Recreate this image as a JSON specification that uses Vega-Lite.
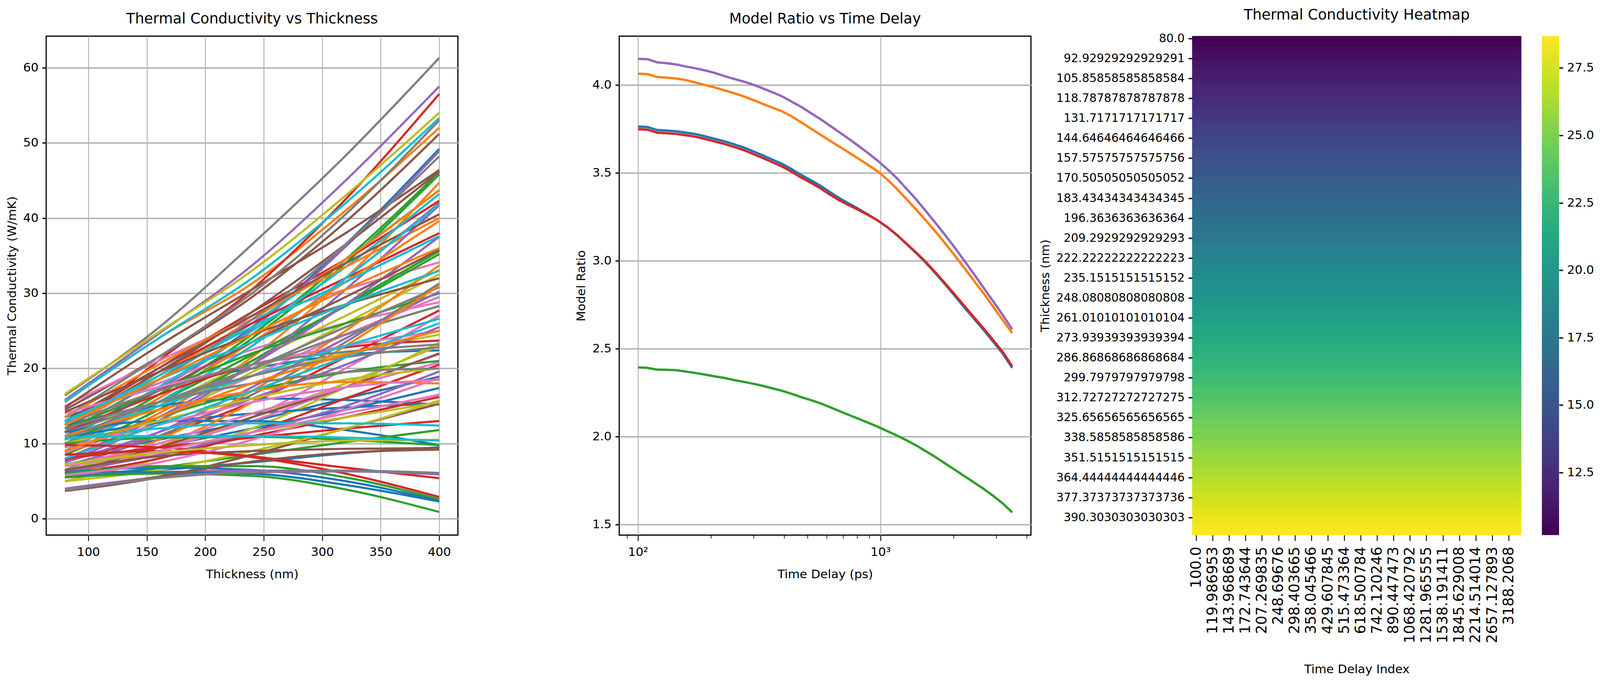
{
  "$schema": "https://vega.github.io/schema/vega-lite/v6.json",
  "background": "white",
  "autosize": {"type": "none"},
  "padding": {"left": 118.2, "top": 92.5, "right": 3977.8, "bottom": 1673.5},
  "config": {
    "font": "DejaVu Sans",
    "view": {"stroke": "black", "strokeWidth": 3},
    "axis": {
      "labelFont": "DejaVu Sans", "labelFontSize": 31, "labelColor": "black", "labelLimit": 0,
      "titleFont": "DejaVu Sans", "titleFontSize": 31, "titleFontWeight": "normal", "titleColor": "black",
      "tickColor": "black", "domain": false, "gridColor": "#b0b0b0", "gridOpacity": 1,
      "labelFlush": false, "labelOverlap": false, "labelBound": false
    },
    "axisX": {"tickSize": 14.6, "tickWidth": 2.3, "labelPadding": 14.6, "titlePadding": 27, "gridWidth": 2.3},
    "axisY": {"tickSize": 10, "tickWidth": 3.3, "labelPadding": 10, "titlePadding": 11.5, "gridWidth": 3.3},
    "title": {"font": "DejaVu Sans", "fontSize": 37, "fontWeight": "normal", "color": "black", "anchor": "middle", "frame": "group", "offset": 25, "baseline": "alphabetic"}
  },
  "datasets": {
    "kappa": [
      {"g":0,"t":80,"k":11.0},{"g":0,"t":160,"k":17.5},{"g":0,"t":240,"k":25.5},{"g":0,"t":320,"k":36.5},{"g":0,"t":400,"k":49.2},
      {"g":1,"t":80,"k":15.5},{"g":1,"t":160,"k":24.0},{"g":1,"t":240,"k":31.3},{"g":1,"t":320,"k":41.0},{"g":1,"t":400,"k":52.0},
      {"g":2,"t":80,"k":10.0},{"g":2,"t":160,"k":16.5},{"g":2,"t":240,"k":24.5},{"g":2,"t":320,"k":34.5},{"g":2,"t":400,"k":46.1},
      {"g":3,"t":80,"k":11.5},{"g":3,"t":160,"k":21.0},{"g":3,"t":240,"k":30.5},{"g":3,"t":320,"k":42.5},{"g":3,"t":400,"k":56.5},
      {"g":4,"t":80,"k":15.8},{"g":4,"t":160,"k":24.6},{"g":4,"t":240,"k":33.7},{"g":4,"t":320,"k":45.0},{"g":4,"t":400,"k":57.5},
      {"g":5,"t":80,"k":14.5},{"g":5,"t":160,"k":21.5},{"g":5,"t":240,"k":29.5},{"g":5,"t":320,"k":39.5},{"g":5,"t":400,"k":51.2},
      {"g":6,"t":80,"k":15.0},{"g":6,"t":160,"k":21.0},{"g":6,"t":240,"k":26.5},{"g":6,"t":320,"k":30.5},{"g":6,"t":400,"k":34.1},
      {"g":7,"t":80,"k":16.4},{"g":7,"t":160,"k":25.4},{"g":7,"t":240,"k":36.5},{"g":7,"t":320,"k":48.3},{"g":7,"t":400,"k":61.3},
      {"g":8,"t":80,"k":16.6},{"g":8,"t":160,"k":24.8},{"g":8,"t":240,"k":33.0},{"g":8,"t":320,"k":43.0},{"g":8,"t":400,"k":54.0},
      {"g":9,"t":80,"k":15.6},{"g":9,"t":160,"k":24.0},{"g":9,"t":240,"k":32.0},{"g":9,"t":320,"k":42.0},{"g":9,"t":400,"k":53.3},
      {"g":10,"t":80,"k":13.5},{"g":10,"t":160,"k":17.5},{"g":10,"t":240,"k":20.0},{"g":10,"t":320,"k":21.8},{"g":10,"t":400,"k":22.4},
      {"g":11,"t":80,"k":8.5},{"g":11,"t":160,"k":14.0},{"g":11,"t":240,"k":21.5},{"g":11,"t":320,"k":32.0},{"g":11,"t":400,"k":44.7},
      {"g":12,"t":80,"k":9.5},{"g":12,"t":160,"k":16.0},{"g":12,"t":240,"k":24.0},{"g":12,"t":320,"k":34.0},{"g":12,"t":400,"k":45.8},
      {"g":13,"t":80,"k":12.5},{"g":13,"t":160,"k":20.0},{"g":13,"t":240,"k":27.5},{"g":13,"t":320,"k":34.5},{"g":13,"t":400,"k":42.3},
      {"g":14,"t":80,"k":10.8},{"g":14,"t":160,"k":17.2},{"g":14,"t":240,"k":25.3},{"g":14,"t":320,"k":36.2},{"g":14,"t":400,"k":48.9},
      {"g":15,"t":80,"k":14.8},{"g":15,"t":160,"k":23.0},{"g":15,"t":240,"k":30.5},{"g":15,"t":320,"k":38.0},{"g":15,"t":400,"k":46.4},
      {"g":16,"t":80,"k":13.0},{"g":16,"t":160,"k":18.0},{"g":16,"t":240,"k":22.5},{"g":16,"t":320,"k":26.0},{"g":16,"t":400,"k":28.8},
      {"g":17,"t":80,"k":13.5},{"g":17,"t":160,"k":21.5},{"g":17,"t":240,"k":30.0},{"g":17,"t":320,"k":40.5},{"g":17,"t":400,"k":53.0},
      {"g":18,"t":80,"k":9.5},{"g":18,"t":160,"k":15.0},{"g":18,"t":240,"k":21.0},{"g":18,"t":320,"k":27.0},{"g":18,"t":400,"k":33.1},
      {"g":19,"t":80,"k":11.5},{"g":19,"t":160,"k":18.5},{"g":19,"t":240,"k":26.0},{"g":19,"t":320,"k":34.5},{"g":19,"t":400,"k":43.7},
      {"g":20,"t":80,"k":8.0},{"g":20,"t":160,"k":10.5},{"g":20,"t":240,"k":13.0},{"g":20,"t":320,"k":16.0},{"g":20,"t":400,"k":18.9},
      {"g":21,"t":80,"k":12.0},{"g":21,"t":160,"k":19.0},{"g":21,"t":240,"k":26.5},{"g":21,"t":320,"k":34.5},{"g":21,"t":400,"k":43.7},
      {"g":22,"t":80,"k":8.5},{"g":22,"t":160,"k":14.5},{"g":22,"t":240,"k":21.0},{"g":22,"t":320,"k":28.5},{"g":22,"t":400,"k":35.6},
      {"g":23,"t":80,"k":12.0},{"g":23,"t":160,"k":19.5},{"g":23,"t":240,"k":26.0},{"g":23,"t":320,"k":32.0},{"g":23,"t":400,"k":38.0},
      {"g":24,"t":80,"k":9.0},{"g":24,"t":160,"k":15.5},{"g":24,"t":240,"k":23.0},{"g":24,"t":320,"k":32.0},{"g":24,"t":400,"k":42.0},
      {"g":25,"t":80,"k":12.5},{"g":25,"t":160,"k":19.5},{"g":25,"t":240,"k":27.5},{"g":25,"t":320,"k":36.5},{"g":25,"t":400,"k":46.2},
      {"g":26,"t":80,"k":8.8},{"g":26,"t":160,"k":13.5},{"g":26,"t":240,"k":19.0},{"g":26,"t":320,"k":24.5},{"g":26,"t":400,"k":29.5},
      {"g":27,"t":80,"k":11.5},{"g":27,"t":160,"k":18.5},{"g":27,"t":240,"k":26.5},{"g":27,"t":320,"k":36.5},{"g":27,"t":400,"k":48.2},
      {"g":28,"t":80,"k":8.0},{"g":28,"t":160,"k":13.0},{"g":28,"t":240,"k":19.5},{"g":28,"t":320,"k":26.0},{"g":28,"t":400,"k":32.5},
      {"g":29,"t":80,"k":10.5},{"g":29,"t":160,"k":17.5},{"g":29,"t":240,"k":25.0},{"g":29,"t":320,"k":33.5},{"g":29,"t":400,"k":43.2},
      {"g":30,"t":80,"k":7.2},{"g":30,"t":160,"k":9.5},{"g":30,"t":240,"k":12.0},{"g":30,"t":320,"k":14.5},{"g":30,"t":400,"k":17.4},
      {"g":31,"t":80,"k":13.5},{"g":31,"t":160,"k":20.5},{"g":31,"t":240,"k":27.0},{"g":31,"t":320,"k":33.5},{"g":31,"t":400,"k":40.0},
      {"g":32,"t":80,"k":10.0},{"g":32,"t":160,"k":15.5},{"g":32,"t":240,"k":21.8},{"g":32,"t":320,"k":28.3},{"g":32,"t":400,"k":35.2},
      {"g":33,"t":80,"k":7.8},{"g":33,"t":160,"k":11.0},{"g":33,"t":240,"k":15.5},{"g":33,"t":320,"k":21.5},{"g":33,"t":400,"k":27.7},
      {"g":34,"t":80,"k":7.5},{"g":34,"t":160,"k":13.0},{"g":34,"t":240,"k":20.5},{"g":34,"t":320,"k":30.5},{"g":34,"t":400,"k":41.7},
      {"g":35,"t":80,"k":13.0},{"g":35,"t":160,"k":20.0},{"g":35,"t":240,"k":27.0},{"g":35,"t":320,"k":34.0},{"g":35,"t":400,"k":40.5},
      {"g":36,"t":80,"k":6.0},{"g":36,"t":160,"k":9.0},{"g":36,"t":240,"k":13.5},{"g":36,"t":320,"k":20.0},{"g":36,"t":400,"k":27.0},
      {"g":37,"t":80,"k":7.0},{"g":37,"t":160,"k":11.0},{"g":37,"t":240,"k":16.5},{"g":37,"t":320,"k":23.5},{"g":37,"t":400,"k":31.3},
      {"g":38,"t":80,"k":12.0},{"g":38,"t":160,"k":15.5},{"g":38,"t":240,"k":19.0},{"g":38,"t":320,"k":22.0},{"g":38,"t":400,"k":24.5},
      {"g":39,"t":80,"k":9.0},{"g":39,"t":160,"k":15.5},{"g":39,"t":240,"k":23.0},{"g":39,"t":320,"k":32.0},{"g":39,"t":400,"k":41.8},
      {"g":40,"t":80,"k":12.5},{"g":40,"t":160,"k":15.0},{"g":40,"t":240,"k":16.0},{"g":40,"t":320,"k":15.8},{"g":40,"t":400,"k":15.2},
      {"g":41,"t":80,"k":9.5},{"g":41,"t":160,"k":16.0},{"g":41,"t":240,"k":23.5},{"g":41,"t":320,"k":31.5},{"g":41,"t":400,"k":39.6},
      {"g":42,"t":80,"k":12.0},{"g":42,"t":160,"k":17.0},{"g":42,"t":240,"k":22.0},{"g":42,"t":320,"k":26.0},{"g":42,"t":400,"k":30.0},
      {"g":43,"t":80,"k":11.5},{"g":43,"t":160,"k":16.5},{"g":43,"t":240,"k":20.5},{"g":43,"t":320,"k":22.8},{"g":43,"t":400,"k":23.7},
      {"g":44,"t":80,"k":8.0},{"g":44,"t":160,"k":13.5},{"g":44,"t":240,"k":20.5},{"g":44,"t":320,"k":28.5},{"g":44,"t":400,"k":37.5},
      {"g":45,"t":80,"k":11.0},{"g":45,"t":160,"k":17.0},{"g":45,"t":240,"k":23.5},{"g":45,"t":320,"k":29.5},{"g":45,"t":400,"k":35.8},
      {"g":46,"t":80,"k":14.0},{"g":46,"t":160,"k":17.5},{"g":46,"t":240,"k":20.5},{"g":46,"t":320,"k":23.0},{"g":46,"t":400,"k":25.0},
      {"g":47,"t":80,"k":10.0},{"g":47,"t":160,"k":15.0},{"g":47,"t":240,"k":20.0},{"g":47,"t":320,"k":25.5},{"g":47,"t":400,"k":30.8},
      {"g":48,"t":80,"k":5.0},{"g":48,"t":160,"k":8.0},{"g":48,"t":240,"k":12.0},{"g":48,"t":320,"k":17.5},{"g":48,"t":400,"k":23.4},
      {"g":49,"t":80,"k":12.8},{"g":49,"t":160,"k":19.0},{"g":49,"t":240,"k":25.5},{"g":49,"t":320,"k":31.5},{"g":49,"t":400,"k":37.6},
      {"g":50,"t":80,"k":10.8},{"g":50,"t":160,"k":12.8},{"g":50,"t":240,"k":14.0},{"g":50,"t":320,"k":14.8},{"g":50,"t":400,"k":15.3},
      {"g":51,"t":80,"k":6.0},{"g":51,"t":160,"k":10.5},{"g":51,"t":240,"k":17.0},{"g":51,"t":320,"k":25.0},{"g":51,"t":400,"k":33.7},
      {"g":52,"t":80,"k":9.0},{"g":52,"t":160,"k":13.5},{"g":52,"t":240,"k":17.0},{"g":52,"t":320,"k":19.5},{"g":52,"t":400,"k":21.0},
      {"g":53,"t":80,"k":6.0},{"g":53,"t":160,"k":8.0},{"g":53,"t":240,"k":11.5},{"g":53,"t":320,"k":16.0},{"g":53,"t":400,"k":20.5},
      {"g":54,"t":80,"k":6.5},{"g":54,"t":160,"k":11.5},{"g":54,"t":240,"k":17.5},{"g":54,"t":320,"k":24.0},{"g":54,"t":400,"k":30.2},
      {"g":55,"t":80,"k":14.2},{"g":55,"t":160,"k":19.5},{"g":55,"t":240,"k":24.5},{"g":55,"t":320,"k":28.5},{"g":55,"t":400,"k":32.0},
      {"g":56,"t":80,"k":6.5},{"g":56,"t":160,"k":9.5},{"g":56,"t":240,"k":13.0},{"g":56,"t":320,"k":17.5},{"g":56,"t":400,"k":21.9},
      {"g":57,"t":80,"k":11.5},{"g":57,"t":160,"k":15.5},{"g":57,"t":240,"k":20.0},{"g":57,"t":320,"k":24.5},{"g":57,"t":400,"k":28.3},
      {"g":58,"t":80,"k":6.5},{"g":58,"t":160,"k":9.5},{"g":58,"t":240,"k":13.5},{"g":58,"t":320,"k":18.0},{"g":58,"t":400,"k":23.0},
      {"g":59,"t":80,"k":13.0},{"g":59,"t":160,"k":18.5},{"g":59,"t":240,"k":23.5},{"g":59,"t":320,"k":28.5},{"g":59,"t":400,"k":33.0},
      {"g":60,"t":80,"k":11.5},{"g":60,"t":160,"k":13.0},{"g":60,"t":240,"k":13.0},{"g":60,"t":320,"k":11.8},{"g":60,"t":400,"k":9.8},
      {"g":61,"t":80,"k":5.5},{"g":61,"t":160,"k":9.5},{"g":61,"t":240,"k":15.5},{"g":61,"t":320,"k":23.0},{"g":61,"t":400,"k":31.0},
      {"g":62,"t":80,"k":5.5},{"g":62,"t":160,"k":6.8},{"g":62,"t":240,"k":8.5},{"g":62,"t":320,"k":10.2},{"g":62,"t":400,"k":11.8},
      {"g":63,"t":80,"k":6.3},{"g":63,"t":160,"k":8.5},{"g":63,"t":240,"k":11.0},{"g":63,"t":320,"k":13.5},{"g":63,"t":400,"k":16.2},
      {"g":64,"t":80,"k":7.5},{"g":64,"t":160,"k":11.5},{"g":64,"t":240,"k":16.0},{"g":64,"t":320,"k":20.5},{"g":64,"t":400,"k":25.5},
      {"g":65,"t":80,"k":6.0},{"g":65,"t":160,"k":9.5},{"g":65,"t":240,"k":13.5},{"g":65,"t":320,"k":17.5},{"g":65,"t":400,"k":22.0},
      {"g":66,"t":80,"k":7.0},{"g":66,"t":160,"k":10.0},{"g":66,"t":240,"k":14.0},{"g":66,"t":320,"k":17.5},{"g":66,"t":400,"k":20.8},
      {"g":67,"t":80,"k":12.5},{"g":67,"t":160,"k":17.0},{"g":67,"t":240,"k":20.5},{"g":67,"t":320,"k":22.2},{"g":67,"t":400,"k":23.2},
      {"g":68,"t":80,"k":10.0},{"g":68,"t":160,"k":13.0},{"g":68,"t":240,"k":16.0},{"g":68,"t":320,"k":18.5},{"g":68,"t":400,"k":20.0},
      {"g":69,"t":80,"k":11.0},{"g":69,"t":160,"k":15.0},{"g":69,"t":240,"k":19.0},{"g":69,"t":320,"k":23.0},{"g":69,"t":400,"k":26.6},
      {"g":70,"t":80,"k":6.0},{"g":70,"t":160,"k":6.5},{"g":70,"t":240,"k":7.5},{"g":70,"t":320,"k":8.7},{"g":70,"t":400,"k":9.5},
      {"g":71,"t":80,"k":11.0},{"g":71,"t":160,"k":14.5},{"g":71,"t":240,"k":17.0},{"g":71,"t":320,"k":18.2},{"g":71,"t":400,"k":18.0},
      {"g":72,"t":80,"k":10.0},{"g":72,"t":160,"k":10.8},{"g":72,"t":240,"k":10.9},{"g":72,"t":320,"k":10.5},{"g":72,"t":400,"k":9.8},
      {"g":73,"t":80,"k":8.0},{"g":73,"t":160,"k":9.5},{"g":73,"t":240,"k":10.8},{"g":73,"t":320,"k":12.0},{"g":73,"t":400,"k":13.0},
      {"g":74,"t":80,"k":6.2},{"g":74,"t":160,"k":8.5},{"g":74,"t":240,"k":11.5},{"g":74,"t":320,"k":15.0},{"g":74,"t":400,"k":19.6},
      {"g":75,"t":80,"k":3.7},{"g":75,"t":160,"k":5.5},{"g":75,"t":240,"k":8.5},{"g":75,"t":320,"k":12.0},{"g":75,"t":400,"k":15.3},
      {"g":76,"t":80,"k":9.5},{"g":76,"t":160,"k":12.5},{"g":76,"t":240,"k":15.5},{"g":76,"t":320,"k":17.5},{"g":76,"t":400,"k":18.5},
      {"g":77,"t":80,"k":10.5},{"g":77,"t":160,"k":15.5},{"g":77,"t":240,"k":19.0},{"g":77,"t":320,"k":21.5},{"g":77,"t":400,"k":22.8},
      {"g":78,"t":80,"k":5.0},{"g":78,"t":160,"k":6.5},{"g":78,"t":240,"k":9.0},{"g":78,"t":320,"k":12.0},{"g":78,"t":400,"k":15.7},
      {"g":79,"t":80,"k":8.0},{"g":79,"t":160,"k":12.5},{"g":79,"t":240,"k":17.0},{"g":79,"t":320,"k":21.5},{"g":79,"t":400,"k":26.0},
      {"g":80,"t":80,"k":6.2},{"g":80,"t":160,"k":6.8},{"g":80,"t":240,"k":6.5},{"g":80,"t":320,"k":5.0},{"g":80,"t":400,"k":2.4},
      {"g":81,"t":80,"k":12.5},{"g":81,"t":160,"k":18.5},{"g":81,"t":240,"k":24.5},{"g":81,"t":320,"k":30.5},{"g":81,"t":400,"k":36.0},
      {"g":82,"t":80,"k":6.0},{"g":82,"t":160,"k":7.0},{"g":82,"t":240,"k":7.0},{"g":82,"t":320,"k":5.5},{"g":82,"t":400,"k":2.6},
      {"g":83,"t":80,"k":9.8},{"g":83,"t":160,"k":9.5},{"g":83,"t":240,"k":8.3},{"g":83,"t":320,"k":6.8},{"g":83,"t":400,"k":5.4},
      {"g":84,"t":80,"k":5.8},{"g":84,"t":160,"k":6.2},{"g":84,"t":240,"k":6.4},{"g":84,"t":320,"k":6.4},{"g":84,"t":400,"k":6.0},
      {"g":85,"t":80,"k":6.5},{"g":85,"t":160,"k":8.3},{"g":85,"t":240,"k":9.0},{"g":85,"t":320,"k":9.3},{"g":85,"t":400,"k":9.4},
      {"g":86,"t":80,"k":5.8},{"g":86,"t":160,"k":7.5},{"g":86,"t":240,"k":10.5},{"g":86,"t":320,"k":14.5},{"g":86,"t":400,"k":18.7},
      {"g":87,"t":80,"k":12.0},{"g":87,"t":160,"k":15.5},{"g":87,"t":240,"k":18.0},{"g":87,"t":320,"k":19.5},{"g":87,"t":400,"k":20.0},
      {"g":88,"t":80,"k":7.0},{"g":88,"t":160,"k":9.0},{"g":88,"t":240,"k":11.5},{"g":88,"t":320,"k":13.5},{"g":88,"t":400,"k":15.5},
      {"g":89,"t":80,"k":10.6},{"g":89,"t":160,"k":12.0},{"g":89,"t":240,"k":12.7},{"g":89,"t":320,"k":12.7},{"g":89,"t":400,"k":12.4},
      {"g":90,"t":80,"k":5.5},{"g":90,"t":160,"k":6.2},{"g":90,"t":240,"k":6.0},{"g":90,"t":320,"k":4.5},{"g":90,"t":400,"k":2.3},
      {"g":91,"t":80,"k":9.0},{"g":91,"t":160,"k":13.5},{"g":91,"t":240,"k":18.0},{"g":91,"t":320,"k":21.8},{"g":91,"t":400,"k":25.0},
      {"g":92,"t":80,"k":5.5},{"g":92,"t":160,"k":6.0},{"g":92,"t":240,"k":5.7},{"g":92,"t":320,"k":3.9},{"g":92,"t":400,"k":0.9},
      {"g":93,"t":80,"k":8.5},{"g":93,"t":160,"k":9.0},{"g":93,"t":240,"k":8.2},{"g":93,"t":320,"k":6.0},{"g":93,"t":400,"k":2.9},
      {"g":94,"t":80,"k":4.0},{"g":94,"t":160,"k":5.5},{"g":94,"t":240,"k":6.2},{"g":94,"t":320,"k":6.3},{"g":94,"t":400,"k":5.9},
      {"g":95,"t":80,"k":3.7},{"g":95,"t":160,"k":5.6},{"g":95,"t":240,"k":7.6},{"g":95,"t":320,"k":8.8},{"g":95,"t":400,"k":9.2},
      {"g":96,"t":80,"k":7.0},{"g":96,"t":160,"k":9.0},{"g":96,"t":240,"k":11.5},{"g":96,"t":320,"k":14.0},{"g":96,"t":400,"k":16.5},
      {"g":97,"t":80,"k":3.8},{"g":97,"t":160,"k":5.4},{"g":97,"t":240,"k":6.2},{"g":97,"t":320,"k":6.4},{"g":97,"t":400,"k":6.1},
      {"g":98,"t":80,"k":7.2},{"g":98,"t":160,"k":8.8},{"g":98,"t":240,"k":9.8},{"g":98,"t":320,"k":10.4},{"g":98,"t":400,"k":10.5},
      {"g":99,"t":80,"k":10.8},{"g":99,"t":160,"k":11.0},{"g":99,"t":240,"k":11.0},{"g":99,"t":320,"k":10.8},{"g":99,"t":400,"k":10.4}
    ],
    "ratio": [
      {"d":100,"s1":3.763,"s2":4.063,"s3":2.393,"s4":3.748,"s5":4.148},
      {"d":109.54,"s1":3.760,"s2":4.061,"s3":2.390,"s4":3.745,"s5":4.146},
      {"d":119.986953,"s1":3.743,"s2":4.045,"s3":2.380,"s4":3.728,"s5":4.128},
      {"d":131.43,"s1":3.740,"s2":4.041,"s3":2.379,"s4":3.725,"s5":4.123},
      {"d":143.968689,"s1":3.736,"s2":4.036,"s3":2.377,"s4":3.721,"s5":4.116},
      {"d":157.70,"s1":3.728,"s2":4.027,"s3":2.369,"s4":3.713,"s5":4.104},
      {"d":172.743644,"s1":3.720,"s2":4.013,"s3":2.361,"s4":3.705,"s5":4.094},
      {"d":189.22,"s1":3.707,"s2":3.999,"s3":2.352,"s4":3.692,"s5":4.082},
      {"d":207.269835,"s1":3.693,"s2":3.985,"s3":2.342,"s4":3.678,"s5":4.068},
      {"d":227.04,"s1":3.679,"s2":3.969,"s3":2.333,"s4":3.664,"s5":4.050},
      {"d":248.69676,"s1":3.662,"s2":3.953,"s3":2.321,"s4":3.647,"s5":4.034},
      {"d":272.42,"s1":3.644,"s2":3.935,"s3":2.311,"s4":3.629,"s5":4.019},
      {"d":298.403665,"s1":3.622,"s2":3.914,"s3":2.300,"s4":3.607,"s5":4.001},
      {"d":326.87,"s1":3.599,"s2":3.892,"s3":2.288,"s4":3.584,"s5":3.980},
      {"d":358.045466,"s1":3.575,"s2":3.871,"s3":2.274,"s4":3.560,"s5":3.958},
      {"d":392.20,"s1":3.551,"s2":3.850,"s3":2.260,"s4":3.536,"s5":3.935},
      {"d":429.607845,"s1":3.521,"s2":3.821,"s3":2.243,"s4":3.506,"s5":3.905},
      {"d":470.59,"s1":3.488,"s2":3.787,"s3":2.224,"s4":3.473,"s5":3.875},
      {"d":515.473364,"s1":3.458,"s2":3.752,"s3":2.207,"s4":3.444,"s5":3.840},
      {"d":564.64,"s1":3.426,"s2":3.717,"s3":2.189,"s4":3.412,"s5":3.806},
      {"d":618.500784,"s1":3.390,"s2":3.682,"s3":2.167,"s4":3.376,"s5":3.768},
      {"d":677.50,"s1":3.355,"s2":3.648,"s3":2.144,"s4":3.343,"s5":3.730},
      {"d":742.120246,"s1":3.324,"s2":3.614,"s3":2.122,"s4":3.315,"s5":3.692},
      {"d":812.91,"s1":3.294,"s2":3.579,"s3":2.100,"s4":3.288,"s5":3.652},
      {"d":890.447473,"s1":3.262,"s2":3.544,"s3":2.078,"s4":3.259,"s5":3.611},
      {"d":975.39,"s1":3.228,"s2":3.507,"s3":2.055,"s4":3.228,"s5":3.568},
      {"d":1068.420792,"s1":3.190,"s2":3.461,"s3":2.030,"s4":3.190,"s5":3.520},
      {"d":1170.34,"s1":3.145,"s2":3.407,"s3":2.005,"s4":3.146,"s5":3.468},
      {"d":1281.965555,"s1":3.094,"s2":3.349,"s3":1.978,"s4":3.096,"s5":3.408},
      {"d":1404.25,"s1":3.043,"s2":3.290,"s3":1.949,"s4":3.046,"s5":3.348},
      {"d":1538.191411,"s1":2.988,"s2":3.229,"s3":1.916,"s4":2.992,"s5":3.282},
      {"d":1684.92,"s1":2.928,"s2":3.166,"s3":1.883,"s4":2.933,"s5":3.215},
      {"d":1845.629008,"s1":2.866,"s2":3.099,"s3":1.847,"s4":2.872,"s5":3.146},
      {"d":2021.68,"s1":2.801,"s2":3.030,"s3":1.811,"s4":2.808,"s5":3.075},
      {"d":2214.514014,"s1":2.735,"s2":2.959,"s3":1.775,"s4":2.743,"s5":3.000},
      {"d":2425.75,"s1":2.671,"s2":2.887,"s3":1.739,"s4":2.679,"s5":2.925},
      {"d":2657.127893,"s1":2.607,"s2":2.815,"s3":1.703,"s4":2.616,"s5":2.847},
      {"d":2910.59,"s1":2.540,"s2":2.739,"s3":1.663,"s4":2.549,"s5":2.770},
      {"d":3188.2068,"s1":2.473,"s2":2.663,"s3":1.620,"s4":2.482,"s5":2.692},
      {"d":3492.33,"s1":2.390,"s2":2.588,"s3":1.568,"s4":2.400,"s5":2.610}
    ],
    "heat": [
      {"t":80,"k":10.18},{"t":83.232,"k":10.37},{"t":86.465,"k":10.55},{"t":89.697,"k":10.74},
      {"t":92.92929292929291,"k":10.93},{"t":96.162,"k":11.11},{"t":99.394,"k":11.30},{"t":102.626,"k":11.49},
      {"t":105.85858585858584,"k":11.67},{"t":109.091,"k":11.86},{"t":112.323,"k":12.05},{"t":115.556,"k":12.24},
      {"t":118.78787878787878,"k":12.42},{"t":122.020,"k":12.61},{"t":125.253,"k":12.80},{"t":128.485,"k":12.98},
      {"t":131.7171717171717,"k":13.17},{"t":134.949,"k":13.36},{"t":138.182,"k":13.54},{"t":141.414,"k":13.73},
      {"t":144.64646464646466,"k":13.92},{"t":147.879,"k":14.10},{"t":151.111,"k":14.29},{"t":154.343,"k":14.48},
      {"t":157.57575757575756,"k":14.66},{"t":160.808,"k":14.85},{"t":164.040,"k":15.04},{"t":167.273,"k":15.23},
      {"t":170.50505050505052,"k":15.41},{"t":173.737,"k":15.60},{"t":176.970,"k":15.79},{"t":180.202,"k":15.97},
      {"t":183.43434343434345,"k":16.16},{"t":186.667,"k":16.35},{"t":189.899,"k":16.53},{"t":193.131,"k":16.72},
      {"t":196.3636363636364,"k":16.91},{"t":199.596,"k":17.09},{"t":202.828,"k":17.28},{"t":206.061,"k":17.47},
      {"t":209.2929292929293,"k":17.65},{"t":212.525,"k":17.84},{"t":215.758,"k":18.03},{"t":218.990,"k":18.22},
      {"t":222.22222222222223,"k":18.40},{"t":225.455,"k":18.59},{"t":228.687,"k":18.78},{"t":231.919,"k":18.96},
      {"t":235.1515151515152,"k":19.15},{"t":238.384,"k":19.34},{"t":241.616,"k":19.52},{"t":244.848,"k":19.71},
      {"t":248.08080808080808,"k":19.90},{"t":251.313,"k":20.08},{"t":254.545,"k":20.27},{"t":257.778,"k":20.46},
      {"t":261.01010101010104,"k":20.64},{"t":264.242,"k":20.83},{"t":267.475,"k":21.02},{"t":270.707,"k":21.21},
      {"t":273.93939393939394,"k":21.39},{"t":277.172,"k":21.58},{"t":280.404,"k":21.77},{"t":283.636,"k":21.95},
      {"t":286.86868686868684,"k":22.14},{"t":290.101,"k":22.33},{"t":293.333,"k":22.51},{"t":296.566,"k":22.70},
      {"t":299.7979797979798,"k":22.89},{"t":303.030,"k":23.07},{"t":306.263,"k":23.26},{"t":309.495,"k":23.45},
      {"t":312.72727272727275,"k":23.63},{"t":315.960,"k":23.82},{"t":319.192,"k":24.01},{"t":322.424,"k":24.20},
      {"t":325.65656565656565,"k":24.38},{"t":328.889,"k":24.57},{"t":332.121,"k":24.76},{"t":335.354,"k":24.94},
      {"t":338.5858585858586,"k":25.13},{"t":341.818,"k":25.32},{"t":345.051,"k":25.50},{"t":348.283,"k":25.69},
      {"t":351.5151515151515,"k":25.88},{"t":354.747,"k":26.06},{"t":357.980,"k":26.25},{"t":361.212,"k":26.44},
      {"t":364.44444444444446,"k":26.62},{"t":367.677,"k":26.81},{"t":370.909,"k":27.00},{"t":374.141,"k":27.19},
      {"t":377.37373737373736,"k":27.37},{"t":380.606,"k":27.56},{"t":383.838,"k":27.75},{"t":387.071,"k":27.93},
      {"t":390.3030303030303,"k":28.12},{"t":393.535,"k":28.31},{"t":396.768,"k":28.49},{"t":400,"k":28.68}
    ]
  },
  "hconcat": [
    {
      "width": 1054,
      "height": 1277,
      "title": "Thermal Conductivity vs Thickness",
      "data": {"name": "kappa"},
      "mark": {"type": "line", "strokeWidth": 5.5, "interpolate": "monotone"},
      "encoding": {
        "x": {
          "field": "t", "type": "quantitative",
          "scale": {"domain": [64, 416], "nice": false, "zero": false},
          "axis": {"title": "Thickness (nm)", "values": [100, 150, 200, 250, 300, 350, 400], "grid": true}
        },
        "y": {
          "field": "k", "type": "quantitative",
          "scale": {"domain": [-2.17, 64.2], "nice": false, "zero": false},
          "axis": {"title": "Thermal Conductivity (W/mK)", "values": [0, 10, 20, 30, 40, 50, 60], "grid": true}
        },
        "color": {
          "field": "g", "type": "nominal",
          "scale": {"range": ["#1f77b4", "#ff7f0e", "#2ca02c", "#d62728", "#9467bd", "#8c564b", "#e377c2", "#7f7f7f", "#bcbd22", "#17becf"]},
          "legend": null
        }
      }
    },
    {
      "width": 1054,
      "height": 1277,
      "title": "Model Ratio vs Time Delay",
      "data": {"name": "ratio"},
      "layer": [
        {
          "transform": [{"fold": ["s1", "s2", "s3", "s4", "s5"], "as": ["series", "r"]}],
          "mark": {"type": "line", "strokeWidth": 6},
          "encoding": {
            "x": {
              "field": "d", "type": "quantitative",
              "scale": {"type": "log", "domain": [83.72, 4172], "nice": false},
              "axis": {"title": "Time Delay (ps)", "values": [100, 1000], "labelExpr": "datum.value == 100 ? '10²' : '10³'", "grid": true}
            },
            "y": {
              "field": "r", "type": "quantitative",
              "scale": {"domain": [1.439, 4.277], "nice": false, "zero": false},
              "axis": {"title": "Model Ratio", "values": [1.5, 2, 2.5, 3, 3.5, 4], "format": ".1f", "grid": true}
            },
            "color": {
              "field": "series", "type": "nominal",
              "scale": {"domain": ["s1", "s2", "s3", "s4", "s5"], "range": ["#1f77b4", "#ff7f0e", "#2ca02c", "#d62728", "#9467bd"]},
              "legend": null
            }
          }
        },
        {
          "mark": {"type": "point", "opacity": 0},
          "encoding": {
            "x": {
              "field": "d", "type": "quantitative",
              "axis": {"orient": "bottom", "title": null, "labels": false, "grid": false, "tickSize": 8.3, "tickWidth": 1.7,
                       "values": [90, 200, 300, 400, 500, 600, 700, 800, 900, 2000, 3000, 4000]}
            }
          }
        }
      ],
      "resolve": {"axis": {"x": "independent"}}
    },
    {
      "hconcat": [
        {
          "width": 842,
          "height": 1277,
          "title": "Thermal Conductivity Heatmap",
          "view": {"stroke": null},
          "layer": [
            {
              "data": {"name": "heat"},
              "mark": {"type": "rect", "strokeWidth": 1},
              "encoding": {
                "y": {
                  "field": "t", "type": "ordinal",
                  "scale": {"type": "band", "paddingInner": 0, "paddingOuter": 0},
                  "axis": {
                    "title": "Thickness (nm)", "titleX": -360, "grid": false, "labelFontSize": 29.5,
                    "values": [80, 92.92929292929291, 105.85858585858584, 118.78787878787878, 131.7171717171717, 144.64646464646466, 157.57575757575756, 170.50505050505052, 183.43434343434345, 196.3636363636364, 209.2929292929293, 222.22222222222223, 235.1515151515152, 248.08080808080808, 261.01010101010104, 273.93939393939394, 286.86868686868684, 299.7979797979798, 312.72727272727275, 325.65656565656565, 338.5858585858586, 351.5151515151515, 364.44444444444446, 377.37373737373736, 390.3030303030303],
                    "labelExpr": "datum.value === 80 ? '80.0' : '' + datum.value"
                  }
                },
                "color": {"field": "k", "type": "quantitative", "scale": {"scheme": "viridis"}, "legend": null},
                "stroke": {"field": "k", "type": "quantitative", "scale": {"scheme": "viridis"}, "legend": null}
              }
            },
            {
              "data": {"name": "ratio"},
              "mark": {"type": "point", "opacity": 0},
              "encoding": {
                "x": {
                  "field": "d", "type": "ordinal",
                  "scale": {"type": "band", "paddingInner": 0, "paddingOuter": 0},
                  "axis": {
                    "title": "Time Delay Index", "titleY": 329, "grid": false, "labelAngle": -90, "labelFontSize": 37,
                    "values": [100, 119.986953, 143.968689, 172.743644, 207.269835, 248.69676, 298.403665, 358.045466, 429.607845, 515.473364, 618.500784, 742.120246, 890.447473, 1068.420792, 1281.965555, 1538.191411, 1845.629008, 2214.514014, 2657.127893, 3188.2068],
                    "labelExpr": "datum.value === 100 ? '100.0' : '' + datum.value"
                  }
                }
              }
            }
          ]
        },
        {
          "width": 44,
          "height": 1277,
          "view": {"stroke": null},
          "data": {"name": "heat"},
          "mark": {
            "type": "rect",
            "color": {
              "gradient": "linear", "x1": 0, "y1": 1, "x2": 0, "y2": 0,
              "stops": [
                {"offset": 0.0, "color": "#440154"}, {"offset": 0.1, "color": "#482475"},
                {"offset": 0.2, "color": "#414487"}, {"offset": 0.3, "color": "#355f8d"},
                {"offset": 0.4, "color": "#2a788e"}, {"offset": 0.5, "color": "#21918c"},
                {"offset": 0.6, "color": "#22a884"}, {"offset": 0.7, "color": "#44bf70"},
                {"offset": 0.8, "color": "#7ad151"}, {"offset": 0.9, "color": "#bddf26"},
                {"offset": 1.0, "color": "#fde725"}
              ]
            }
          },
          "encoding": {
            "y": {
              "aggregate": "min", "field": "k", "type": "quantitative",
              "scale": {"zero": false, "nice": false},
              "axis": {"orient": "right", "title": null, "grid": false, "format": ".1f", "values": [12.5, 15, 17.5, 20, 22.5, 25, 27.5]}
            },
            "y2": {"aggregate": "max", "field": "k"}
          }
        }
      ],
      "spacing": 53,
      "bounds": "flush"
    }
  ],
  "spacing": 413,
  "bounds": "flush"
}
